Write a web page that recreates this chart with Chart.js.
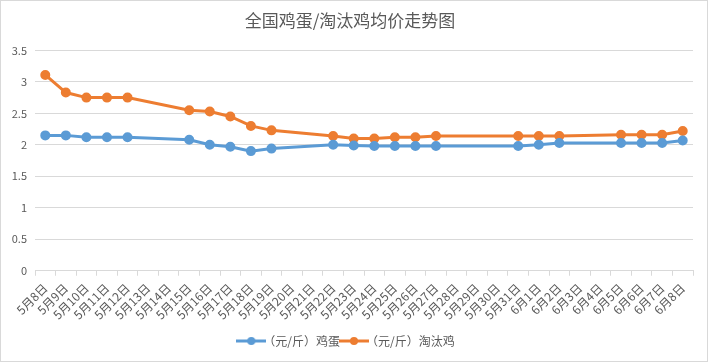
<!doctype html>
<html lang="zh">
  <head>
    <meta charset="UTF-8" />
    <title>全国鸡蛋/淘汰鸡均价走势图</title>
    <script src="https://cdn.jsdelivr.net/npm/chart.js"></script>
    <style>
      html, body { margin: 0; padding: 0; background: #fff; }
      #wrap { width: 706px; height: 360px; border: 1px solid #d9d9d9; }
    </style>
  </head>
  <body>
    <div id="wrap"><canvas id="priceChart" width="706" height="360"></canvas></div>

    <script>
      // 日期 5月8日 - 6月8日
      const labels = [
        "5月8日", "5月9日", "5月10日", "5月11日", "5月12日", "5月13日", "5月14日", "5月15日",
        "5月16日", "5月17日", "5月18日", "5月19日", "5月20日", "5月21日", "5月22日", "5月23日",
        "5月24日", "5月25日", "5月26日", "5月27日", "5月28日", "5月29日", "5月30日", "5月31日",
        "6月1日", "6月2日", "6月3日", "6月4日", "6月5日", "6月6日", "6月7日", "6月8日"
      ];

      // （元/斤）鸡蛋
      const eggPrice = [
        2.15, 2.15, 2.12, 2.12, 2.12, null, null, 2.08,
        2.0, 1.97, 1.9, 1.94, null, null, 2.0, 1.99,
        1.98, 1.98, 1.98, 1.98, null, null, null, 1.98,
        2.0, 2.03, null, null, 2.03, 2.03, 2.03, 2.07
      ];

      // （元/斤）淘汰鸡
      const henPrice = [
        3.11, 2.83, 2.75, 2.75, 2.75, null, null, 2.55,
        2.53, 2.45, 2.3, 2.23, null, null, 2.14, 2.1,
        2.1, 2.12, 2.12, 2.14, null, null, null, 2.14,
        2.14, 2.14, null, null, 2.16, 2.16, 2.16, 2.22
      ];

      const yTicks = [0, 0.5, 1, 1.5, 2, 2.5, 3, 3.5];

      const textColor = "#595959";
      const fontFamily = "'Noto Sans CJK SC', 'Noto Sans', sans-serif";

      function legendIcon(color) {
        const c = document.createElement("canvas");
        c.width = 30;
        c.height = 10;
        const g = c.getContext("2d");
        g.strokeStyle = color;
        g.lineWidth = 3;
        g.beginPath();
        g.moveTo(0, 5);
        g.lineTo(30, 5);
        g.stroke();
        g.fillStyle = color;
        g.beginPath();
        g.arc(15, 5, 4, 0, Math.PI * 2);
        g.fill();
        return c;
      }

      const ctx = document.getElementById("priceChart").getContext("2d");

      new Chart(ctx, {
        type: "line",
        data: {
          labels: labels,
          datasets: [
            {
              label: "（元/斤）鸡蛋",
              data: eggPrice,
              borderColor: "#5B9BD5",
              backgroundColor: "#5B9BD5",
              borderWidth: 3,
              pointRadius: 3.5,
              pointHoverRadius: 3.5,
              spanGaps: true,
              tension: 0,
            },
            {
              label: "（元/斤）淘汰鸡",
              data: henPrice,
              borderColor: "#ED7D31",
              backgroundColor: "#ED7D31",
              borderWidth: 3,
              pointRadius: 3.5,
              pointHoverRadius: 3.5,
              spanGaps: true,
              tension: 0,
            },
          ],
        },
        options: {
          responsive: false,
          animation: false,
          layout: { padding: { left: 6, right: 14, top: 0, bottom: 4 } },
          plugins: {
            title: {
              display: true,
              text: "全国鸡蛋/淘汰鸡均价走势图",
              color: textColor,
              font: { family: fontFamily, size: 17, weight: "normal" },
              padding: { top: 9, bottom: 20 },
            },
            legend: {
              position: "bottom",
              labels: {
                color: textColor,
                font: { family: fontFamily, size: 12 },
                usePointStyle: true,
                padding: 8,
                generateLabels(chart) {
                  return chart.data.datasets.map((ds, i) => ({
                    text: ds.label,
                    fontColor: textColor,
                    pointStyle: legendIcon(ds.borderColor),
                    strokeStyle: ds.borderColor,
                    fillStyle: ds.borderColor,
                    lineWidth: 0,
                    hidden: false,
                    datasetIndex: i,
                  }));
                },
              },
            },
            tooltip: { enabled: false },
          },
          scales: {
            x: {
              offset: true,
              grid: {
                display: true,
                offset: true,
                drawOnChartArea: false,
                drawTicks: true,
                tickLength: 5,
                color: "#D9D9D9",
              },
              border: { color: "#D9D9D9" },
              ticks: {
                color: textColor,
                font: { family: fontFamily, size: 12 },
                minRotation: 45,
                maxRotation: 45,
                autoSkip: false,
                padding: 5,
              },
            },
            y: {
              min: 0,
              max: 3.5,
              afterBuildTicks(axis) {
                axis.ticks = yTicks.map((v) => ({ value: v }));
              },
              afterFit(axis) {
                axis.width = 28;
              },
              grid: { color: "#D9D9D9", drawTicks: false },
              border: { display: false },
              ticks: {
                color: textColor,
                font: { family: fontFamily, size: 11 },
                padding: 8,
                callback: (v) => String(v),
              },
            },
          },
        },
      });
    </script>
  </body>
</html>
